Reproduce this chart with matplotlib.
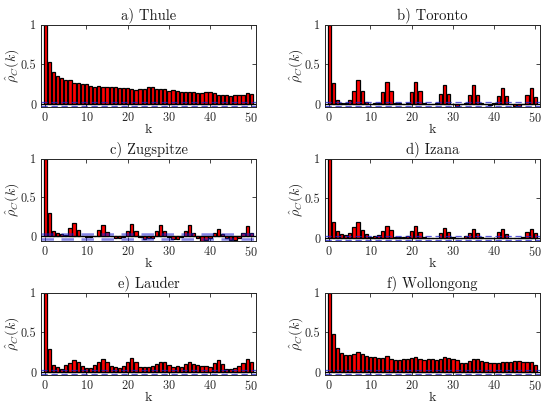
import numpy as np
import matplotlib
matplotlib.use("Agg")
import matplotlib.pyplot as plt

plt.rcParams['font.family'] = ['cmr10', 'DejaVu Serif']
plt.rcParams['mathtext.fontset'] = 'cm'
plt.rcParams['axes.formatter.use_mathtext'] = True

lags = list(range(51))

thule = [1.0, 0.525, 0.41, 0.35, 0.33, 0.31, 0.30, 0.27, 0.26, 0.25, 0.25, 0.23, 0.22, 0.23, 0.22,
         0.21, 0.22, 0.21, 0.20, 0.20, 0.20, 0.185, 0.18, 0.185, 0.19, 0.215, 0.21, 0.185, 0.185,
         0.185, 0.17, 0.175, 0.17, 0.155, 0.15, 0.148, 0.148, 0.135, 0.135, 0.15, 0.148, 0.14,
         0.115, 0.115, 0.12, 0.10, 0.11, 0.11, 0.12, 0.135, 0.125]
toronto = [1.0, 0.26, 0.05, 0.02, 0.017, 0.046, 0.17, 0.30, 0.165, 0.025, 0.0, 0.012, 0.012, 0.155,
           0.28, 0.165, 0.017, 0.017, 0.004, 0.008, 0.155, 0.28, 0.165, 0.012, 0.0, -0.004, 0.02,
           0.126, 0.24, 0.122, 0.0, -0.025, -0.004, 0.008, 0.115, 0.235, 0.115, 0.008, -0.004,
           -0.013, 0.008, 0.10, 0.205, 0.097, -0.004, -0.025, -0.025, -0.004, 0.11, 0.20, 0.09]
zugspitze = [1.0, 0.30, 0.073, 0.04, 0.03, 0.02, 0.11, 0.175, 0.086, 0.004, -0.004, -0.004, 0.0,
             0.086, 0.15, 0.06, 0.0, -0.017, -0.026, -0.009, 0.07, 0.155, 0.073, -0.004, -0.03,
             -0.017, -0.017, 0.073, 0.14, 0.073, -0.013, -0.039, -0.03, -0.009, 0.07, 0.14, 0.043,
             -0.02, -0.056, -0.05, -0.026, 0.043, 0.10, 0.035, -0.026, -0.05, -0.05, -0.017, 0.04,
             0.13, 0.043]
izana = [1.0, 0.20, 0.084, 0.05, 0.038, 0.06, 0.134, 0.205, 0.097, 0.046, 0.017, 0.025, 0.034,
         0.088, 0.147, 0.097, 0.017, 0.008, 0.008, 0.025, 0.084, 0.15, 0.08, 0.008, 0.0, 0.004,
         0.004, 0.06, 0.13, 0.08, 0.012, -0.004, 0.004, 0.025, 0.067, 0.12, 0.067, 0.012, 0.0,
         0.0, 0.004, 0.071, 0.12, 0.05, 0.0, -0.004, 0.0, 0.017, 0.071, 0.118, 0.063]
lauder = [1.0, 0.29, 0.084, 0.059, 0.038, 0.084, 0.118, 0.15, 0.126, 0.076, 0.05, 0.055, 0.084,
          0.126, 0.16, 0.122, 0.071, 0.063, 0.05, 0.08, 0.122, 0.172, 0.122, 0.063, 0.067, 0.067,
          0.08, 0.105, 0.122, 0.122, 0.084, 0.067, 0.071, 0.059, 0.097, 0.13, 0.105, 0.092, 0.071,
          0.071, 0.067, 0.113, 0.15, 0.105, 0.038, 0.038, 0.05, 0.076, 0.113, 0.16, 0.126]
wollongong = [1.0, 0.483, 0.30, 0.235, 0.21, 0.21, 0.227, 0.248, 0.223, 0.20, 0.19, 0.185, 0.172,
              0.172, 0.197, 0.164, 0.155, 0.15, 0.168, 0.168, 0.176, 0.185, 0.16, 0.155, 0.164,
              0.168, 0.155, 0.168, 0.19, 0.176, 0.164, 0.15, 0.113, 0.113, 0.134, 0.16, 0.16, 0.139,
              0.126, 0.113, 0.113, 0.113, 0.126, 0.122, 0.122, 0.134, 0.134, 0.122, 0.122, 0.122,
              0.092]

titles = ['a) Thule', 'b) Toronto', 'c) Zugspitze', 'd) Izana', 'e) Lauder', 'f) Wollongong']
series = [thule, toronto, zugspitze, izana, lauder, wollongong]
conf = [0.028, 0.028, 0.035, 0.028, 0.028, 0.028]
ybottom = [-0.04, -0.04, -0.065, -0.04, -0.04, -0.04]

W, H = 541, 404
fig = plt.figure(figsize=(W / 100, H / 100), dpi=100)

lefts = [40.7, 324.7]
width = 215.6
tops = [24.7, 158.7, 292.7]
height = 82.6

for i, (title, vals) in enumerate(zip(titles, series)):
    r, c = divmod(i, 2)
    ax = fig.add_axes([lefts[c] / W, 1 - (tops[r] + height) / H, width / W, height / H])
    ax.bar(lags, vals, width=0.8, color='#ff0000', edgecolor='black', linewidth=0.9, zorder=2)
    ax.axhline(0, color='black', linewidth=0.9, zorder=3)
    lw = 1.8 if i == 2 else 0.9
    al = 0.55 if i == 2 else 0.75
    for s in (1, -1):
        ax.axhline(s * conf[i], color='#1f1fd0', linestyle=(0, (5, 3)), linewidth=lw, alpha=al, zorder=4)
    ax.set_xlim(-1.1, 51.2)
    ax.set_ylim(ybottom[i], 1)
    ax.set_xticks([0, 10, 20, 30, 40, 50])
    ax.set_yticks([0, 0.5, 1])
    ax.set_yticklabels(['0', '0.5', '1'])
    ax.tick_params(direction='in', top=True, right=True, labelsize=8.8, length=3,
                   width=0.6, colors='#262626', labelcolor='#262626', pad=3)
    for sp in ax.spines.values():
        sp.set_linewidth(0.7)
        sp.set_color('#262626')
    ax.set_title(title, fontsize=10.5, color='#1a1a1a', pad=4)
    ax.set_xlabel('k', fontsize=10, labelpad=-1, color='#262626')
    ax.set_ylabel(r'$\hat{\rho}_C(k)$', fontsize=10, color='#262626')
    ax.yaxis.set_label_coords(-0.09, 0.5)

fig.savefig('out.png', dpi=100)
